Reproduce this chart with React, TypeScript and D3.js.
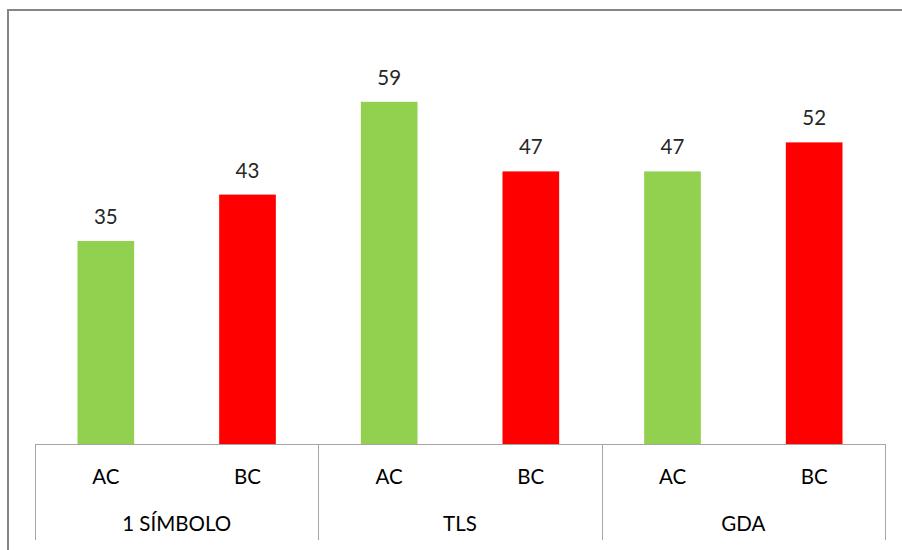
import React from 'react';
import * as d3 from 'd3';

// groups along the axis and the two bars in each
const groups = ['1 SÍMBOLO', 'TLS', 'GDA'];
const subCats = ['AC', 'BC'];
const acValues = [35, 59, 47];
const bcValues = [43, 47, 52];
const barColors = ['#92D050', '#FF0000'];

const W = 902, H = 550;
const plotLeft = 35, plotRight = 885;
const baseY = 444, topY = 38;
const axisBottom = 540;
const font = 'Lato, Carlito, Calibri, sans-serif';
const fs = 20.5;

const App = () => {
    const x0 = d3.scaleBand<string>().domain(groups).range([plotLeft, plotRight]);
    const x1 = d3.scaleBand<string>().domain(subCats).range([0, x0.bandwidth()]).paddingInner(0.6).paddingOuter(0.3);
    const y = d3.scaleLinear().domain([0, 70]).range([baseY, topY]);

    const rows = groups.map((g, i) => ({ group: g, values: [acValues[i], bcValues[i]] }));
    const dividers = [...groups.map(g => x0(g) ?? 0), plotRight];

    return (
        <svg width={W} height={H} style={{ position: 'absolute', left: 0, top: 0 }}>
            <rect x={0} y={0} width={W} height={H} fill="white" />
            {/* outer chart frame, runs past the right and bottom edges */}
            <rect x={8} y={10} width={W + 20} height={H + 20} fill="none" stroke="#868686" strokeWidth={2} />

            {rows.map(r => (
                <g key={r.group} transform={`translate(${x0(r.group)},0)`}>
                    {r.values.map((v, j) => {
                        const bx = x1(subCats[j]) ?? 0;
                        return (
                            <g key={subCats[j]}>
                                <rect x={bx} y={y(v)} width={x1.bandwidth()} height={baseY - y(v)} fill={barColors[j]} />
                                <text x={bx + x1.bandwidth() / 2} y={y(v) - 17} textAnchor="middle"
                                    fontFamily={font} fontSize={fs} fill="#262626">{v}</text>
                                <text x={bx + x1.bandwidth() / 2} y={484} textAnchor="middle"
                                    fontFamily={font} fontSize={fs} fill="#000">{subCats[j]}</text>
                            </g>
                        );
                    })}
                    <text x={x0.bandwidth() / 2} y={531} textAnchor="middle"
                        fontFamily={font} fontSize={fs} fill="#000">{r.group}</text>
                </g>
            ))}

            {/* category axis */}
            <line x1={plotLeft} x2={plotRight} y1={baseY + 0.5} y2={baseY + 0.5} stroke="#A6A6A6" strokeWidth={1} />
            {dividers.map((d, i) => (
                <line key={i} x1={Math.round(d) + 0.5} x2={Math.round(d) + 0.5} y1={baseY} y2={axisBottom}
                    stroke="#A6A6A6" strokeWidth={1} />
            ))}
        </svg>
    );
};

export default App;
